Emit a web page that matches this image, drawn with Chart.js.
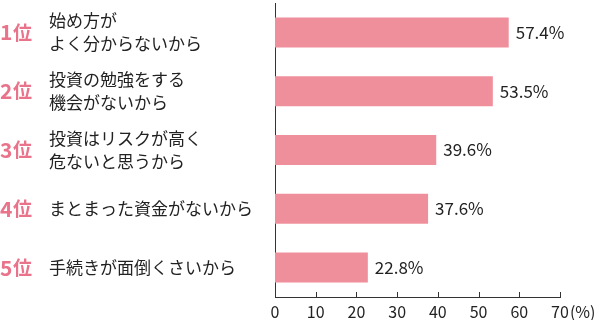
<!DOCTYPE html>
<html>
<head>
<meta charset="utf-8">
<script src="https://cdn.jsdelivr.net/npm/chart.js@4"></script>
<style>
  html, body { margin: 0; padding: 0; background: #fff; }
  #wrap { width: 600px; height: 320px; }
</style>
</head>
<body>
<div id="wrap"><canvas id="chart"></canvas></div>
<script>
// data
const ranks = ['1', '2', '3', '4', '5'];
const reasons = [
  ['始め方が', 'よく分からないから'],
  ['投資の勉強をする', '機会がないから'],
  ['投資はリスクが高く', '危ないと思うから'],
  ['まとまった資金がないから'],
  ['手続きが面倒くさいから']
];
const values = [57.4, 53.5, 39.6, 37.6, 22.8];
const xMax = 70;
const xStep = 10;
const unitLabel = '(%)';

const FONT = '"Noto Sans CJK JP", "Noto Sans", sans-serif';
const PINK = '#ef8f9b';
const RANK = '#e9738a';
const INK = '#222';

Chart.defaults.font.family = FONT;
Chart.defaults.color = INK;

// left labels, value labels, x tick marks and labels
const sidePlugin = {
  id: 'side',
  afterDraw(chart) {
    const ctx = chart.ctx;
    const xs = chart.scales.x, ys = chart.scales.y;
    const meta = chart.getDatasetMeta(0);
    ctx.save();

    ctx.strokeStyle = '#333';
    ctx.lineWidth = 1;
    ctx.fillStyle = INK;
    ctx.font = '16px ' + FONT;
    ctx.textAlign = 'center';
    ctx.textBaseline = 'middle';
    xs.ticks.forEach((t, i) => {
      const px = xs.getPixelForTick(i);
      ctx.fillText(String(t.value), px, xs.top + 15);
      if (i === 0) return;
      const lx = Math.round(px) + 0.5;
      ctx.beginPath();
      ctx.moveTo(lx, xs.top);
      ctx.lineTo(lx, xs.top - 5);
      ctx.stroke();
    });
    const lastX = xs.getPixelForValue(xMax);
    const tw = ctx.measureText(String(xMax)).width;
    ctx.textAlign = 'left';
    ctx.fillText(unitLabel, lastX + tw / 2 + 1, xs.top + 15);

    reasons.forEach((lines, i) => {
      const cy = ys.getPixelForValue(i);
      // rank
      ctx.fillStyle = RANK;
      ctx.font = 'bold 21px ' + FONT;
      ctx.fillText(ranks[i], 0, cy);
      ctx.font = 'bold 19px ' + FONT;
      ctx.fillText('位', 13, cy);
      // reason text
      ctx.fillStyle = INK;
      ctx.font = '17px ' + FONT;
      const lh = 23;
      const y0 = cy - (lines.length - 1) * lh / 2;
      lines.forEach((s, k) => ctx.fillText(s, 49, y0 + k * lh));
      // value
      const bar = meta.data[i];
      ctx.fillText(values[i].toFixed(1) + '%', bar.x + 7, bar.y);
    });
    ctx.restore();
  }
};

new Chart(document.getElementById('chart'), {
  type: 'bar',
  data: {
    labels: reasons.map(r => r.join('')),
    datasets: [{
      data: values,
      backgroundColor: PINK,
      borderWidth: 0,
      categoryPercentage: 1,
      barPercentage: 0.51
    }]
  },
  options: {
    indexAxis: 'y',
    responsive: true,
    maintainAspectRatio: false,
    animation: false,
    layout: { padding: { left: 275, right: 40, top: 3, bottom: 23 } },
    plugins: {
      legend: { display: false },
      tooltip: { enabled: false }
    },
    scales: {
      x: {
        min: 0,
        max: xMax,
        ticks: { stepSize: xStep, display: false },
        grid: { display: false, drawTicks: false },
        border: { color: '#333', width: 1 }
      },
      y: {
        ticks: { display: false },
        grid: { display: false, drawTicks: false },
        border: { color: '#333', width: 1 }
      }
    }
  },
  plugins: [sidePlugin]
});
</script>
</body>
</html>
